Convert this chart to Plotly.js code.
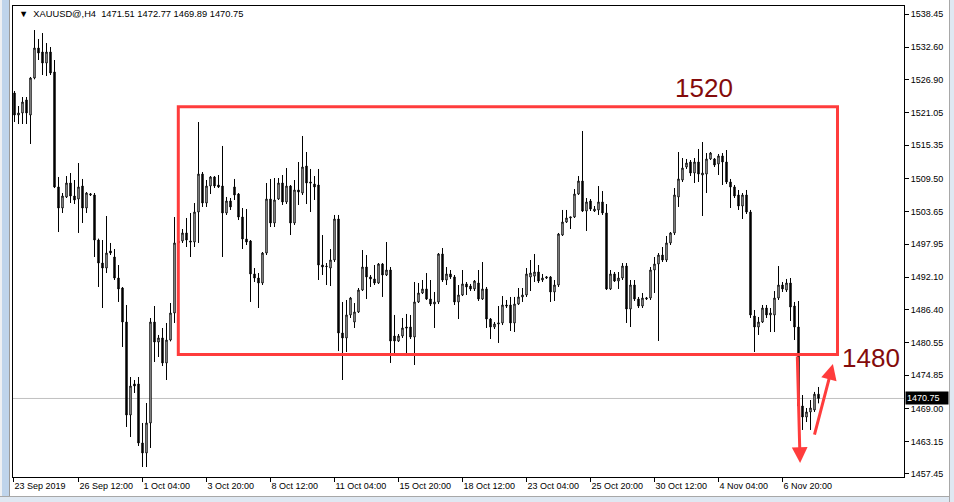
<!DOCTYPE html>
<html>
<head>
<meta charset="utf-8">
<script src="https://cdn.plot.ly/plotly-3.0.1.min.js"></script>
<style>
html,body{margin:0;padding:0;background:#fff;}
#wrap{position:relative;width:954px;height:502px;overflow:hidden;}
#chart{position:absolute;left:0;top:0;width:954px;height:502px;}
.chrome{position:absolute;pointer-events:none;}
</style>
</head>
<body>
<div id="wrap">
  <div id="chart"></div>
  <div class="chrome" style="left:0;top:0;width:2px;height:502px;background:#eef0f3"></div>
  <div class="chrome" style="left:2px;top:0;width:7px;height:502px;background:#bfd4eb"></div>
  <div class="chrome" style="left:9px;top:0;width:1px;height:502px;background:#9a9a9a"></div>
  <div class="chrome" style="left:0;top:496px;width:954px;height:6px;background:#dfe8f2;border-top:1px solid #a8a8a8"></div>
  <div class="chrome" style="left:949px;top:0;width:5px;height:502px;background:#dfe8f2;border-left:1px solid #a8a8a8"></div>
</div>
<script>
// ---- H4 bars, XAUUSD (oldest to newest) ----
const opens = [
1524.54,1520.66,1521.02,1523.31,1520.66,1527.18,1532.46,1531.76,1529.82,1531.76,
1528.24,1507.99,1504.29,1506.23,1508.69,1506.40,1505.87,1508.16,1504.29,1506.58,
1506.58,1498.65,1494.60,1493.72,1496.72,1495.66,1491.96,1490.20,1484.21,1467.84,
1473.30,1473.30,1462.91,1461.15,1466.43,1484.21,1480.69,1481.40,1477.00,1481.04,
1485.80,1498.13,1498.48,1499.89,1498.48,1498.30,1503.58,1510.27,1505.17,1508.16,
1509.75,1508.34,1508.16,1503.41,1505.52,1507.99,1506.75,1502.70,1498.83,1498.48,
1492.67,1491.96,1491.08,1496.36,1505.87,1501.65,1505.87,1508.69,1505.35,1508.16,
1501.65,1507.46,1506.93,1511.68,1508.87,1508.51,1508.34,1494.25,1494.07,1493.72,
1495.13,1502.35,1482.28,1481.40,1485.45,1484.21,1485.98,1489.85,1493.90,1492.14,
1491.79,1491.08,1494.43,1492.49,1493.37,1481.75,1480.87,1481.75,1483.33,1483.33,
1481.57,1487.74,1489.32,1490.03,1488.26,1487.38,1487.74,1496.19,1491.61,1492.67,
1492.14,1487.74,1488.97,1490.91,1490.55,1490.03,1491.08,1488.26,1490.03,1484.74,
1483.33,1483.86,1484.04,1487.21,1487.21,1484.04,1487.38,1488.62,1488.97,1492.14,
1492.30,1493.02,1491.61,1491.96,1492.14,1489.50,1490.73,1499.53,1501.82,1502.53,
1502.70,1506.75,1509.04,1503.76,1505.52,1503.76,1503.94,1505.35,1503.41,1490.03,
1492.67,1491.43,1491.96,1494.07,1486.50,1490.73,1488.26,1487.03,1488.26,1488.44,
1493.37,1494.43,1496.01,1495.13,1498.13,1499.89,1506.23,1509.22,1511.51,1512.39,
1510.45,1512.39,1510.10,1510.27,1512.92,1512.92,1512.04,1513.45,1512.39,1508.87,
1507.99,1506.58,1504.64,1506.58,1503.58,1485.27,1483.33,1484.21,1486.68,1485.45,
1485.45,1488.44,1490.73,1489.85,1491.08,1487.03,1483.33,1469.42,1467.48,1468.37,
1468.72,1471.51];
const highs = [
1524.89,1522.25,1523.83,1523.83,1527.36,1535.63,1534.05,1535.10,1533.34,1532.64,
1530.35,1509.75,1506.93,1509.92,1510.45,1509.22,1512.21,1509.40,1507.10,1506.93,
1506.93,1498.90,1498.65,1502.88,1498.13,1497.07,1494.25,1490.38,1487.21,1474.53,
1474.00,1474.53,1466.43,1469.95,1484.92,1487.03,1481.93,1483.16,1484.04,1487.56,
1502.70,1499.36,1500.59,1502.53,1503.41,1505.17,1519.43,1510.63,1509.22,1509.92,
1509.92,1510.10,1515.21,1506.23,1506.05,1509.40,1506.93,1504.29,1504.11,1498.65,
1493.72,1492.84,1496.54,1508.69,1509.40,1509.57,1509.57,1510.10,1511.33,1508.34,
1509.22,1512.39,1516.97,1514.15,1511.16,1509.92,1511.16,1499.53,1494.60,1497.07,
1503.06,1503.06,1487.74,1488.09,1488.62,1487.56,1490.20,1496.89,1496.01,1492.49,
1494.25,1494.60,1494.60,1498.30,1493.90,1485.45,1482.10,1484.92,1485.63,1485.45,
1491.26,1491.08,1491.61,1492.84,1491.61,1489.50,1496.36,1497.24,1493.90,1493.37,
1492.49,1490.73,1493.37,1491.26,1490.91,1491.61,1493.37,1494.78,1490.38,1484.92,
1484.21,1487.03,1488.79,1488.09,1488.62,1488.62,1490.20,1490.20,1493.72,1495.13,
1496.19,1494.25,1492.67,1492.31,1492.31,1491.61,1499.89,1503.94,1503.94,1502.70,
1507.63,1509.92,1517.85,1506.05,1505.87,1504.64,1508.16,1507.28,1504.99,1493.37,
1493.02,1493.02,1494.60,1494.60,1491.61,1491.61,1488.62,1489.32,1488.62,1493.90,
1495.66,1496.36,1497.42,1499.36,1500.06,1507.81,1514.15,1513.09,1512.92,1512.74,
1513.09,1514.68,1515.91,1513.97,1514.15,1513.09,1513.80,1513.97,1514.50,1509.40,
1508.34,1507.46,1506.93,1507.46,1503.94,1486.33,1485.10,1487.21,1487.21,1486.68,
1489.67,1494.07,1491.26,1491.79,1491.96,1487.74,1487.91,1471.36,1469.07,1470.48,
1471.90,1472.77];
const lows = [
1519.43,1519.08,1519.08,1519.08,1515.56,1526.95,1530.35,1527.71,1527.53,1527.71,
1507.80,1500.06,1503.41,1506.05,1505.17,1504.99,1499.89,1501.65,1503.41,1506.40,
1495.66,1490.38,1486.68,1492.84,1496.01,1491.61,1487.74,1479.81,1465.73,1463.96,
1471.71,1462.38,1458.68,1458.68,1462.03,1477.17,1478.05,1476.46,1474.00,1480.80,
1484.04,1497.42,1498.13,1497.42,1495.66,1497.42,1498.13,1504.47,1504.47,1506.75,
1507.81,1507.81,1495.66,1503.06,1503.94,1505.70,1502.17,1497.07,1497.77,1487.74,
1491.26,1486.68,1490.73,1496.01,1500.94,1500.94,1505.70,1504.82,1504.99,1499.53,
1501.30,1504.82,1506.58,1504.99,1503.58,1505.70,1491.61,1492.49,1490.73,1490.55,
1494.78,1479.10,1474.00,1478.93,1484.92,1483.16,1485.80,1489.67,1488.26,1490.38,
1490.73,1490.91,1488.62,1492.31,1477.00,1478.58,1480.69,1481.40,1478.23,1481.22,
1476.64,1487.56,1489.14,1488.09,1487.03,1483.16,1487.38,1491.26,1490.73,1491.79,
1487.21,1484.74,1488.79,1488.97,1489.67,1489.67,1487.91,1488.09,1483.16,1481.22,
1482.98,1480.52,1483.68,1486.68,1482.63,1482.45,1487.21,1487.74,1488.62,1489.67,
1491.26,1491.08,1491.26,1491.79,1487.74,1487.91,1490.38,1499.36,1501.65,1500.59,
1502.53,1506.58,1503.58,1500.24,1503.76,1503.58,1503.06,1503.06,1489.85,1489.85,
1491.26,1490.03,1491.61,1484.04,1483.33,1487.91,1486.68,1486.68,1488.09,1488.09,
1489.32,1480.87,1494.78,1494.78,1497.77,1499.53,1504.47,1508.87,1511.16,1509.92,
1508.69,1508.87,1502.88,1506.93,1512.74,1511.51,1510.10,1508.34,1508.51,1504.29,
1506.05,1503.94,1502.35,1503.23,1484.92,1478.93,1481.93,1484.04,1484.92,1482.45,
1482.45,1488.09,1489.50,1489.50,1484.39,1481.04,1463.96,1465.20,1466.60,1465.20,
1468.37,1469.89];
const closes = [
1520.66,1521.02,1522.95,1521.02,1527.18,1532.46,1531.58,1529.82,1531.76,1528.06,
1507.99,1504.29,1506.40,1508.69,1506.40,1505.70,1507.99,1504.29,1506.93,1506.75,
1498.65,1494.60,1493.72,1496.36,1496.36,1491.96,1490.03,1484.21,1467.84,1472.94,
1472.94,1462.91,1461.15,1466.43,1484.21,1480.69,1481.40,1477.00,1481.04,1485.80,
1498.13,1498.48,1499.89,1498.65,1498.30,1503.58,1510.27,1505.17,1508.16,1509.75,
1508.16,1507.99,1503.41,1505.52,1504.47,1506.58,1502.70,1498.83,1498.30,1492.67,
1491.96,1491.08,1496.36,1505.87,1501.65,1505.70,1508.69,1505.35,1508.16,1501.65,
1507.46,1507.11,1511.51,1508.69,1508.69,1507.99,1494.25,1493.90,1493.98,1495.13,
1502.35,1482.28,1481.40,1485.45,1488.44,1485.98,1489.85,1493.90,1492.14,1491.79,
1491.08,1494.43,1492.49,1493.37,1480.87,1480.87,1481.75,1483.16,1483.16,1481.57,
1487.74,1489.32,1490.03,1488.26,1487.38,1487.74,1496.19,1491.61,1492.67,1492.14,
1487.74,1488.97,1490.91,1490.38,1490.03,1491.43,1488.26,1490.03,1484.74,1483.33,
1483.86,1484.04,1487.21,1487.03,1484.04,1487.38,1488.62,1488.97,1492.67,1492.84,
1493.02,1491.43,1491.96,1492.14,1489.50,1490.73,1499.71,1501.82,1502.53,1502.70,
1506.75,1509.04,1503.76,1505.35,1504.11,1504.11,1505.35,1503.41,1490.03,1492.67,
1491.43,1491.96,1494.07,1486.50,1490.73,1488.26,1487.03,1488.44,1488.44,1493.37,
1494.43,1496.01,1495.13,1498.13,1499.89,1506.58,1509.40,1511.33,1512.21,1510.45,
1512.39,1510.27,1510.45,1512.92,1513.97,1511.86,1513.45,1512.39,1508.87,1507.99,
1506.40,1504.64,1506.58,1503.58,1485.45,1483.33,1484.21,1486.68,1485.45,1485.80,
1488.44,1490.73,1490.03,1491.08,1486.85,1483.33,1469.42,1467.48,1468.37,1469.07,
1471.51,1470.75];

// time-axis labels and the bar index each one sits on
const timeTickBars = [-0.25,16,32,48,64,80,96,112,128,144,160,176,192];
const timeTickLabels = ['23 Sep 2019','26 Sep 12:00','1 Oct 04:00','3 Oct 20:00','8 Oct 12:00',
  '11 Oct 04:00','15 Oct 20:00','18 Oct 12:00','23 Oct 04:00','25 Oct 20:00','30 Oct 12:00',
  '4 Nov 04:00','6 Nov 20:00'];
// price-axis labels
const priceTicks = [1538.45,1532.60,1526.90,1521.05,1515.35,1509.50,1503.65,1497.95,
  1492.10,1486.40,1480.55,1474.85,1469.00,1463.15,1457.45];

const symbolName = 'XAUUSD@,H4';
// drawn range box (1520 / 1480 zone)
const zoneStartBar = 40.95, zoneEndBar = 205.75;
const zoneTop = 1522.13, zoneBottom = 1478.47;
const zoneTopLabel = '1520', zoneBottomLabel = '1480';
// hand-drawn arrows: [tailBar, tailPrice, tipBar, tipPrice]
const arrowDown = [195.7, 1478.4, 196.4, 1459.4];
const arrowUp = [199.9, 1464.1, 204.6, 1476.8];

const barIndex = opens.map((_, i) => i);
const n = closes.length - 1;
const lastBar = [opens[n], highs[n], lows[n], closes[n]];

const redLine = 'rgb(255,60,60)';
const darkRed = '#840b0b';
const axisFont = {family: 'Liberation Sans, Arial, sans-serif', size: 9, color: '#000'};

const trace = {
  type: 'candlestick',
  x: barIndex, open: opens, high: highs, low: lows, close: closes,
  increasing: {line: {color: '#000', width: 1}, fillcolor: '#ffffff'},
  decreasing: {line: {color: '#000', width: 1}, fillcolor: '#000000'},
  whiskerwidth: 0,
  hoverinfo: 'skip',
  showlegend: false
};

function arrowAnn(a) {
  return {x: a[2], y: a[3], ax: a[0], ay: a[1], xref: 'x', yref: 'y', axref: 'x', ayref: 'y',
    text: '', showarrow: true, arrowhead: 2, arrowsize: 1.05, arrowwidth: 3, arrowcolor: redLine, standoff: 0};
}

const layout = {
  width: 954, height: 502,
  margin: {l: 13, r: 50, t: 6, b: 25, pad: 0},
  paper_bgcolor: '#ffffff', plot_bgcolor: '#ffffff',
  showlegend: false,
  boxgap: 0.5,
  font: axisFont,
  xaxis: {
    range: [-0.375, 222.375], showgrid: false, zeroline: false,
    showline: true, mirror: true, linecolor: '#000', linewidth: 1,
    ticks: 'outside', ticklen: 4, tickcolor: '#000', tickwidth: 1,
    tickmode: 'array', tickvals: timeTickBars, ticktext: timeTickLabels,
    ticklabelposition: 'outside right', tickfont: axisFont,
    rangeslider: {visible: false}, fixedrange: true
  },
  yaxis: {
    range: [1456.92, 1539.86], side: 'right', showgrid: false, zeroline: false,
    showline: true, mirror: true, linecolor: '#000', linewidth: 1,
    ticks: 'outside', ticklen: 4, tickcolor: '#000', tickwidth: 1,
    tickmode: 'array', tickvals: priceTicks, ticktext: priceTicks.map(v => v.toFixed(2)),
    tickfont: axisFont, fixedrange: true
  },
  shapes: [
    {type: 'line', xref: 'paper', x0: 0, x1: 1, yref: 'y', y0: closes[n], y1: closes[n],
     line: {color: '#c0c0c0', width: 1}, layer: 'below'},
    {type: 'rect', xref: 'x', yref: 'y', x0: zoneStartBar, x1: zoneEndBar, y0: zoneBottom, y1: zoneTop,
     line: {color: redLine, width: 3}, fillcolor: 'rgba(0,0,0,0)', layer: 'above'}
  ],
  annotations: [
    {xref: 'paper', yref: 'paper', x: 0, y: 1, xshift: 4, yshift: -8, xanchor: 'left', yanchor: 'middle',
     text: '\u25BC\u00a0\u00a0' + symbolName + '\u00a0\u00a0' + lastBar.map(v => v.toFixed(2)).join(' '),
     showarrow: false, font: {family: 'Liberation Sans, Arial, sans-serif', size: 9.3, color: '#000'}},
    {xref: 'x', yref: 'y', x: 172.4, y: 1525.4, text: zoneTopLabel, showarrow: false,
     font: {family: 'Liberation Sans, Arial, sans-serif', size: 26, color: darkRed}},
    {xref: 'x', yref: 'y', x: 214.1, y: 1477.9, text: zoneBottomLabel, showarrow: false,
     font: {family: 'Liberation Sans, Arial, sans-serif', size: 26, color: darkRed}},
    arrowAnn(arrowDown),
    arrowAnn(arrowUp),
    {xref: 'paper', yref: 'y', x: 1, y: closes[n], xanchor: 'left', yanchor: 'middle', xshift: 1,
     text: closes[n].toFixed(2), showarrow: false, bgcolor: '#000000', borderpad: 1, width: 40, align: 'left',
     font: {family: 'Liberation Sans, Arial, sans-serif', size: 9, color: '#ffffff'}}
  ]
};

Plotly.newPlot('chart', [trace], layout, {staticPlot: true, displayModeBar: false});
</script>
</body>
</html>
